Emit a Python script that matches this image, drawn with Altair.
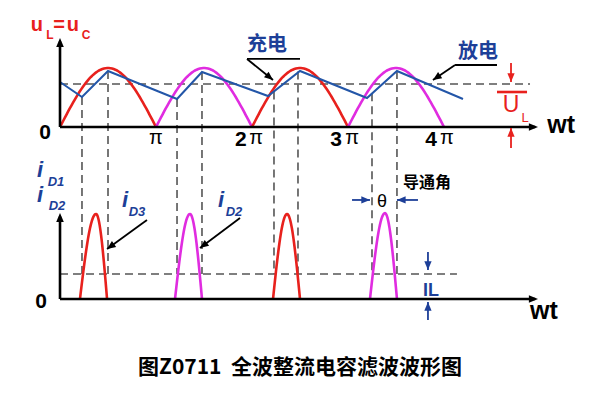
import altair as alt
import numpy as np
import pandas as pd

# ---------------- data ----------------
# t: wt in units of pi ; v: u_C relative to peak ; i: diode current relative to peak
HALF_START = [0, 1, 2, 3]                      # start of each rectified half-wave (x pi)
HALF_COLOR = ["#e8211d", "#e02ce0", "#e8211d", "#e02ce0"]
PEAK_V = 1.0

RIP_T = [0.0, 0.229, 0.5, 1.219, 1.479, 2.167, 2.5, 3.198, 3.51, 4.198]   # ripple vertices
RIP_V = [0.763, 0.508, 0.949, 0.475, 0.932, 0.525, 0.949, 0.492, 0.949, 0.475]

PULSE_A = [0.208, 1.198, 2.219, 3.229]         # conduction start
PULSE_P = [0.375, 1.354, 2.365, 3.385]         # current peak position
PULSE_B = [0.49, 1.479, 2.5, 3.51]             # conduction end
PULSE_H = [1.0, 1.0, 1.0, 1.01]
PULSE_COLOR = ["#e8211d", "#e02ce0", "#e8211d", "#e02ce0"]

UL_LEVEL = 0.729                                # average output voltage
IL_LEVEL = 0.294                                # load current

V_T = [0.229, 0.5, 1.219, 1.479, 2.229, 2.479, 3.25, 3.51]
V_TOP = [0.508, 0.949, 0.475, 0.932, 0.60, 0.94, 0.57, 0.949]
V_BOT = -2.49

TITLE = "图Z0711\u00a0\u00a0全波整流电容滤波波形图"

# ---------------- scales ----------------
XS = alt.Scale(domain=[-0.5417, 5.5417], nice=False, zero=False)
VS = alt.Scale(domain=[-4.4915, 2.0169], nice=False, zero=False)
IS = alt.Scale(domain=[-1.094, 3.4235], nice=False, zero=False)


def xt(f="t"):
    return alt.X(f"{f}:Q", scale=XS, axis=None)


def yv(f="y"):
    return alt.Y(f"{f}:Q", scale=VS, axis=None)


def yi(f="y"):
    return alt.Y(f"{f}:Q", scale=IS, axis=None)


DASH = "#555555"
BLUE_TXT = "#1d3f98"
RED = "#e8211d"
LATIN = "Liberation Sans"
CJK = "Noto Sans CJK SC"
HEAD = "M0,0L-0.42,1L0.42,1Z"

layers = []

# dashed guides
hd = pd.DataFrame({"t": [0.0], "t2": [4.896], "y": [UL_LEVEL]})
layers.append(alt.Chart(hd).mark_rule(color=DASH, strokeWidth=1.6, strokeDash=[8, 5]).encode(
    x=xt(), x2="t2:Q", y=yv()))
vd = pd.DataFrame({"t": V_T, "y": V_TOP, "y2": [V_BOT] * len(V_T)})
layers.append(alt.Chart(vd).mark_rule(color=DASH, strokeWidth=1.6, strokeDash=[8, 5]).encode(
    x=xt(), y=yv(), y2="y2:Q"))
hd2 = pd.DataFrame({"t": [0.0], "t2": [4.135], "y": [IL_LEVEL]})
layers.append(alt.Chart(hd2).mark_rule(color=DASH, strokeWidth=1.6, strokeDash=[8, 5]).encode(
    x=xt(), x2="t2:Q", y=yi()))

# rectified half-waves
rows = []
for k, (s, c) in enumerate(zip(HALF_START, HALF_COLOR)):
    for tt in np.linspace(s, s + 1, 60):
        rows.append({"t": tt, "y": PEAK_V * abs(np.sin(np.pi * tt)), "g": k, "c": c})
hw = pd.DataFrame(rows)
layers.append(alt.Chart(hw).mark_line(strokeWidth=2.6).encode(
    x=xt(), y=yv(), detail="g:N", color=alt.Color("c:N", scale=None)))

# ripple
rp = pd.DataFrame({"t": RIP_T, "y": RIP_V})
layers.append(alt.Chart(rp).mark_line(strokeWidth=2.0, color="#2356a8").encode(x=xt(), y=yv()))

# current pulses
rows = []
for k in range(4):
    a, p, b, h = PULSE_A[k], PULSE_P[k], PULSE_B[k], PULSE_H[k]
    for tt in np.linspace(a, p, 25):
        rows.append({"t": tt, "y": h * np.sin(np.pi / 2 * (tt - a) / (p - a)), "g": k, "c": PULSE_COLOR[k]})
    for tt in np.linspace(p, b, 25)[1:]:
        rows.append({"t": tt, "y": h * np.cos(np.pi / 2 * (tt - p) / (b - p)), "g": k, "c": PULSE_COLOR[k]})
pu = pd.DataFrame(rows)
layers.append(alt.Chart(pu).mark_line(strokeWidth=2.6).encode(
    x=xt(), y=yi(), detail="g:N", color=alt.Color("c:N", scale=None)))


def segs(data, ych, width):
    df = pd.DataFrame(data, columns=["t", "y", "t2", "y2", "c"])
    return alt.Chart(df).mark_rule(strokeWidth=width).encode(
        x=xt(), y=ych(), x2="t2:Q", y2="y2:Q", color=alt.Color("c:N", scale=None))


def heads(data, ych, size):
    df = pd.DataFrame(data, columns=["t", "y", "a", "c"])
    return alt.Chart(df).mark_point(shape=HEAD, filled=True, size=size, opacity=1, strokeWidth=0).encode(
        x=xt(), y=ych(), angle=alt.Angle("a:Q", scale=None), color=alt.Color("c:N", scale=None))


# axes
layers.append(segs([[0, 0, 0, 1.45, "black"], [0, 0, 4.95, 0, "black"]], yv, 2.6))
layers.append(segs([[0, 0, 0, 0.97, "black"], [0, 0, 4.95, 0, "black"]], yi, 2.6))
layers.append(heads([[0, 1.508, 0, "black"], [4.979, 0, 90, "black"]], yv, 330))
layers.append(heads([[0, 1.012, 0, "black"], [4.979, 0, 90, "black"]], yi, 330))

# annotation arrows (top)
layers.append(segs([
    [2.5, 1.153, 1.948, 1.153, "black"], [1.948, 1.153, 2.219, 0.797, "black"],
    [4.552, 1.051, 4.115, 1.051, "black"], [4.115, 1.051, 3.885, 0.797, "black"],
    [4.698, 1.085, 4.698, 0.763, RED], [4.698, -0.356, 4.698, -0.017, RED],
], yv, 1.8))
layers.append(segs([[4.552, 0.593, 4.865, 0.593, RED]], yv, 2.6))
layers.append(heads([
    [2.219, 0.797, 129, "black"], [3.885, 0.797, 236, "black"],
    [4.698, 0.763, 180, RED], [4.698, -0.017, 0, RED],
], yv, 300))

# annotation arrows (bottom)
layers.append(segs([
    [0.906, 0.929, 0.49, 0.588, "black"], [1.875, 0.953, 1.458, 0.6, "black"],
    [3.042, 1.165, 3.229, 1.165, BLUE_TXT], [3.729, 1.165, 3.51, 1.165, BLUE_TXT],
    [3.833, 0.553, 3.833, 0.341, BLUE_TXT], [3.833, -0.247, 3.833, -0.035, BLUE_TXT],
], yi, 1.8))
layers.append(heads([
    [0.49, 0.588, 234, "black"], [1.458, 0.6, 233, "black"],
    [3.229, 1.165, 90, BLUE_TXT], [3.51, 1.165, 270, BLUE_TXT],
    [3.833, 0.341, 180, BLUE_TXT], [3.833, -0.035, 0, BLUE_TXT],
], yi, 300))


def texts(data, ych, font, weight="normal", style="normal"):
    df = pd.DataFrame(data, columns=["t", "y", "text", "s", "c"])
    return alt.Chart(df).mark_text(font=font, fontWeight=weight, fontStyle=style,
                                   align="center", baseline="middle").encode(
        x=xt(), y=ych(), text="text:N", size=alt.Size("s:Q", scale=None),
        color=alt.Color("c:N", scale=None))


# top texts
layers.append(texts([
    [-0.156, -0.102, "0", 21, "black"],
    [1.885, -0.22, "2", 21, "black"], [2.875, -0.22, "3", 21, "black"], [3.865, -0.22, "4", 21, "black"],
    [5.22, 0.034, "wt", 25, "black"],
    [-0.24, 1.729, "u", 20, RED], [-0.01, 1.729, "=", 20, RED], [0.135, 1.729, "u", 20, RED],
    [-0.104, 1.559, "L", 12, RED], [0.271, 1.559, "C", 12, RED],
], yv, LATIN, "bold"))
layers.append(texts([
    [1.0, -0.186, "π", 20, "black"], [2.042, -0.186, "π", 20, "black"],
    [3.042, -0.186, "π", 20, "black"], [4.031, -0.186, "π", 20, "black"],
    [4.698, 0.373, "U", 23, RED], [4.844, 0.153, "L", 13, RED],
], yv, LATIN))
layers.append(texts([
    [2.156, 1.39, "充电", 20, BLUE_TXT], [4.354, 1.271, "放电", 20, BLUE_TXT],
], yv, CJK, "bold"))

# bottom texts
layers.append(texts([
    [-0.198, -0.035, "0", 21, "black"], [5.04, -0.141, "wt", 25, "black"],
    [3.865, 0.094, "IL", 18, BLUE_TXT],
], yi, LATIN, "bold"))
layers.append(texts([
    [-0.208, 1.518, "i", 22, BLUE_TXT], [-0.042, 1.376, "D1", 13, BLUE_TXT],
    [-0.208, 1.224, "i", 22, BLUE_TXT], [-0.031, 1.094, "D2", 13, BLUE_TXT],
    [0.677, 1.165, "i", 22, BLUE_TXT], [0.802, 1.024, "D3", 13, BLUE_TXT],
    [1.677, 1.165, "i", 22, BLUE_TXT], [1.8125, 1.024, "D2", 13, BLUE_TXT],
], yi, LATIN, "bold", "italic"))
layers.append(texts([[3.354, 1.141, "θ", 18, "black"]], yi, LATIN))
layers.append(texts([
    [3.823, 1.365, "导通角", 16, "black"],
    [2.5, -0.812, TITLE, 21, "black"],
], yi, CJK, "bold"))

chart = alt.layer(*layers).resolve_scale(y="independent").properties(
    width=584, height=384, padding=0, background="white"
).configure_view(stroke=None)

chart.save("out.html", embed_options={"renderer": "svg", "actions": False})
